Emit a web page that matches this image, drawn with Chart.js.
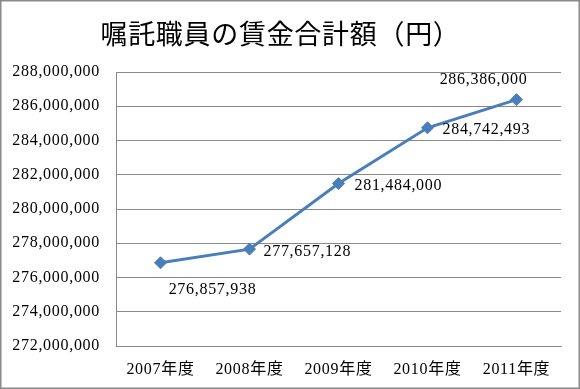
<!DOCTYPE html>
<html>
<head>
<meta charset="utf-8">
<script src="https://cdn.jsdelivr.net/npm/chart.js"></script>
<style>
  html, body { margin: 0; padding: 0; background: #fff; }
  canvas { display: block; }
</style>
</head>
<body>
<canvas id="c" width="580" height="389"></canvas>
<script>
const chartTitle = '嘱託職員の賃金合計額（円）';
const categories = ['2007年度', '2008年度', '2009年度', '2010年度', '2011年度'];
const wageTotals = [276857938, 277657128, 281484000, 284742493, 286386000];
const yMin = 272000000;
const yMax = 288000000;
const yStep = 2000000;

const fmt = v => Math.round(v).toLocaleString('en-US');
const numFont = "'Liberation Serif', 'Noto Sans CJK JP', serif";
const numSize = 16;

// label placement relative to each point: [dx, dy, align]
const labelPlacement = [
  [52, 27, 'center'],
  [14, 3, 'left'],
  [16, 2, 'left'],
  [15, 2, 'left'],
  [-33, -20, 'center']
];

const frame = {
  id: 'frame',
  beforeDraw(chart) {
    const ctx = chart.ctx;
    ctx.letterSpacing = '0.7px';
    ctx.save();
    ctx.fillStyle = '#ffffff';
    ctx.fillRect(0, 0, chart.width, chart.height);
    ctx.restore();
  },
  afterDraw(chart) {
    const ctx = chart.ctx;
    ctx.save();
    ctx.strokeStyle = '#8a8a8a';
    ctx.lineWidth = 1.5;
    ctx.strokeRect(0.75, 0.75, chart.width - 1.5, chart.height - 1.5);
    ctx.restore();
  }
};

const dataLabels = {
  id: 'dataLabels',
  afterDatasetsDraw(chart) {
    const ctx = chart.ctx;
    const meta = chart.getDatasetMeta(0);
    ctx.save();
    ctx.font = numSize + "px " + numFont;
    ctx.fillStyle = '#000';
    ctx.textBaseline = 'middle';
    meta.data.forEach((pt, i) => {
      const p = labelPlacement[i];
      ctx.textAlign = p[2];
      ctx.fillText(fmt(wageTotals[i]), pt.x + p[0], pt.y + p[1]);
    });
    ctx.restore();
  }
};

new Chart(document.getElementById('c'), {
  type: 'line',
  data: {
    labels: categories,
    datasets: [{
      data: wageTotals,
      borderColor: '#4a7ebb',
      backgroundColor: '#4a7ebb',
      borderWidth: 3,
      pointStyle: 'rectRot',
      pointRadius: 6,
      pointHoverRadius: 6,
      pointBorderWidth: 1,
      tension: 0
    }]
  },
  options: {
    responsive: false,
    devicePixelRatio: 1,
    animation: false,
    layout: { padding: { left: 0, right: 19, top: 0, bottom: 0 } },
    plugins: {
      legend: { display: false },
      tooltip: { enabled: false },
      title: {
        display: true,
        text: chartTitle,
        color: '#000',
        font: { family: "'Noto Sans CJK JP', sans-serif", size: 27, weight: 'normal', lineHeight: 1.2 },
        padding: { top: 18, bottom: 21.6 }
      }
    },
    scales: {
      x: {
        offset: true,
        grid: { display: false, drawTicks: false },
        border: { display: true, color: '#8a8a8a', width: 1 },
        ticks: {
          color: '#000',
          font: { family: numFont, size: numSize, lineHeight: 1 },
          padding: 16,
          maxRotation: 0
        },
        afterFit(scale) { scale.height = 43; }
      },
      y: {
        min: yMin,
        max: yMax,
        grid: { color: '#8a8a8a', lineWidth: 1, drawTicks: false },
        border: { display: true, color: '#8a8a8a', width: 1 },
        ticks: {
          stepSize: yStep,
          color: '#000',
          font: { family: numFont, size: numSize },
          padding: 16,
          callback: v => fmt(v)
        },
        afterFit(scale) { scale.width = 116; }
      }
    }
  },
  plugins: [frame, dataLabels]
});
</script>
</body>
</html>
